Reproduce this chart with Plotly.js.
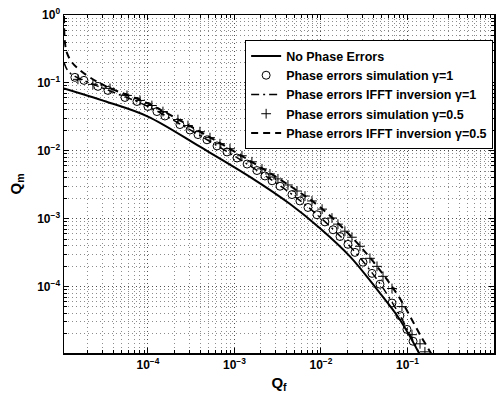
<!DOCTYPE html>
<html>
<head>
<meta charset="utf-8">
<script src="https://cdn.plot.ly/plotly-3.0.1.min.js"></script>
<style>html,body{margin:0;padding:0;background:#fff}#chart{width:503px;height:397px}</style>
</head>
<body>
<div id="chart"></div>
<script>
// No phase errors (solid)
const noErrQf = [1.07e-5, 3.27e-5, 1.0e-4, 3.99e-4, 1.51e-3, 4.39e-3, 9.73e-3, 2.16e-2, 4.44e-2, 8.18e-2, 0.1396];
const noErrQm = [0.0830, 0.0532, 0.0319, 0.01146, 0.00412, 0.00164, 7.23e-4, 2.78e-4, 9.04e-5, 3.24e-5, 9.8e-6];

// Phase errors simulation gamma=1 (circles)
const sim1Qf = [1.43e-5, 1.82e-5, 2.64e-5, 3.45e-5, 5.42e-5, 7.46e-5, 1.00e-4, 1.27e-4, 1.57e-4, 2.34e-4, 3.06e-4, 3.79e-4, 4.81e-4, 6.28e-4, 8.19e-4, 1.07e-3, 1.40e-3, 1.82e-3, 2.25e-3, 2.72e-3, 3.36e-3, 4.62e-3, 5.71e-3, 7.08e-3, 8.99e-3, 1.11e-2, 1.38e-2, 1.66e-2, 2.05e-2, 2.47e-2, 3.06e-2, 3.89e-2, 4.81e-2, 6.62e-2, 8.18e-2, 9.86e-2, 0.116];
const sim1Qm = [0.1206, 0.1089, 0.0888, 0.0774, 0.0610, 0.0532, 0.0449, 0.0378, 0.0325, 0.0243, 0.0202, 0.0173, 0.0145, 0.01178, 0.00960, 0.00782, 0.00637, 0.00511, 0.00425, 0.00361, 0.00300, 0.00226, 0.00182, 0.00146, 0.00114, 8.94e-4, 6.85e-4, 5.45e-4, 4.18e-4, 3.18e-4, 2.28e-4, 1.56e-4, 1.08e-4, 5.70e-5, 3.72e-5, 2.33e-5, 1.56e-5];

// Phase errors IFFT inversion gamma=1 (dash-dot)
const ifft1Qf = [1.07e-5, 1.19e-5, 1.43e-5, 3.27e-5, 1.0e-4, 3.99e-4, 1.51e-3, 4.39e-3, 9.73e-3, 2.16e-2, 4.44e-2, 8.18e-2, 0.1396];
const ifft1Qm = [0.200, 0.150, 0.125, 0.0801, 0.0449, 0.01668, 0.0060, 0.00239, 0.00105, 3.91e-4, 1.27e-4, 3.72e-5, 9.8e-6];

// Phase errors simulation gamma=0.5 (plus)
const sim05Qf = [1.55e-5, 2.31e-5, 3.64e-5, 5.72e-5, 8.09e-5, 1.11e-4, 1.49e-4, 2.22e-4, 2.90e-4, 3.99e-4, 5.21e-4, 6.80e-4, 8.87e-4, 1.22e-3, 1.59e-3, 2.08e-3, 2.57e-3, 3.18e-3, 4.15e-3, 5.28e-3, 6.53e-3, 7.87e-3, 1.03e-2, 1.34e-2, 1.57e-2, 1.89e-2, 2.28e-2, 2.82e-2, 3.68e-2, 4.44e-2, 5.21e-2, 6.62e-2, 8.63e-2, 0.1127, 0.1396, 0.159];
const sim05Qm = [0.1127, 0.0950, 0.0829, 0.0653, 0.0551, 0.0464, 0.0378, 0.0288, 0.0235, 0.0191, 0.0156, 0.0127, 0.01071, 0.00843, 0.00687, 0.00541, 0.00456, 0.00385, 0.00313, 0.00255, 0.00215, 0.00182, 0.00138, 0.00102, 8.29e-4, 6.53e-4, 5.32e-4, 3.91e-4, 2.60e-4, 1.98e-4, 1.41e-4, 9.33e-5, 5.06e-5, 1.95e-5, 1.43e-5, 1.09e-5];

// Phase errors IFFT inversion gamma=0.5 (dashed)
const ifft05Qf = [1.07e-5, 1.096e-5, 1.16e-5, 1.32e-5, 1.64e-5, 2.13e-5, 3.27e-5, 1.0e-4, 3.99e-4, 1.51e-3, 4.39e-3, 9.73e-3, 2.16e-2, 4.44e-2, 8.18e-2, 0.1396, 0.192];
const ifft05Qm = [0.966, 0.398, 0.274, 0.201, 0.153, 0.1206, 0.0888, 0.0497, 0.0191, 0.00711, 0.00303, 0.00148, 5.70e-4, 1.98e-4, 6.64e-5, 1.95e-5, 9.8e-6];

const seriesNames = ['No Phase Errors', 'Phase errors simulation \u03b3=1', 'Phase errors IFFT inversion \u03b3=1', 'Phase errors simulation \u03b3=0.5', 'Phase errors IFFT inversion \u03b3=0.5'];

const xTickVals = [1e-4, 1e-3, 1e-2, 1e-1, 1];
const xTickText = ['10<sup>\u22124</sup>', '10<sup>\u22123</sup>', '10<sup>\u22122</sup>', '10<sup>\u22121</sup>', '10<sup>0</sup>'];
const yTickVals = [1e-4, 1e-3, 1e-2, 1e-1, 1];
const yTickText = ['10<sup>\u22124</sup>', '10<sup>\u22123</sup>', '10<sup>\u22122</sup>', '10<sup>\u22121</sup>', '10<sup>0</sup>'];

const FONT = 'Liberation Sans, Arial, Helvetica, sans-serif';

const traces = [
  {x: noErrQf, y: noErrQm, name: seriesNames[0], mode: 'lines', line: {color: '#000', width: 2, shape: 'spline'}},
  {x: sim1Qf, y: sim1Qm, name: seriesNames[1], mode: 'markers', marker: {symbol: 'circle-open', size: 8, color: '#000', line: {width: 1}}},
  {x: ifft1Qf, y: ifft1Qm, name: seriesNames[2], mode: 'lines', line: {color: '#000', width: 1.5, dash: '8px,4px,2px,4px', shape: 'spline'}},
  {x: sim05Qf, y: sim05Qm, name: seriesNames[3], mode: 'markers', marker: {symbol: 'cross-thin-open', size: 7, color: '#000', line: {width: 1, color: '#000'}}},
  {x: ifft05Qf, y: ifft05Qm, name: seriesNames[4], mode: 'lines', line: {color: '#000', width: 2, dash: '7px,5px', shape: 'spline'}}
];

const gridCol = 'rgba(0,0,0,0.45)';
function axis(tv, tt, range, title, standoff) {
  return {
    type: 'log', range: range, autorange: false,
    tickmode: 'array', tickvals: tv, ticktext: tt,
    ticks: 'inside', ticklen: 5, tickwidth: 1, tickcolor: '#000',
    showline: true, linecolor: '#000', linewidth: 1.5, mirror: 'ticks',
    showgrid: true, gridcolor: gridCol, griddash: '1px,3px', gridwidth: 1,
    minor: {dtick: 'D1', showgrid: true, gridcolor: gridCol, griddash: '1px,3px', gridwidth: 1, ticks: 'inside', ticklen: 3, tickcolor: '#000'},
    zeroline: false,
    tickfont: {family: FONT, size: 12, color: '#000', weight: 'bold'},
    title: {text: title, font: {family: FONT, size: 15, color: '#000', weight: 'bold'}, standoff: standoff}
  };
}

const layout = {
  width: 503, height: 397,
  margin: {l: 64, r: 9, t: 15, b: 44},
  paper_bgcolor: '#fff', plot_bgcolor: '#fff',
  showlegend: true,
  legend: {x: 0.998, y: 0.925, xanchor: 'right', yanchor: 'top', bgcolor: '#fff', bordercolor: '#000', borderwidth: 1,
    font: {family: FONT, size: 12.5, color: '#000', weight: 'bold'}, tracegroupgap: 0},
  xaxis: axis(xTickVals, xTickText, [Math.log10(1.07e-5), 0], 'Q<sub>f</sub>', 6),
  yaxis: axis(yTickVals, yTickText, [-4.98, 0], 'Q<sub>m</sub>', 12)
};

Plotly.newPlot('chart', traces, layout, {displayModeBar: false, staticPlot: true});
</script>
</body>
</html>
